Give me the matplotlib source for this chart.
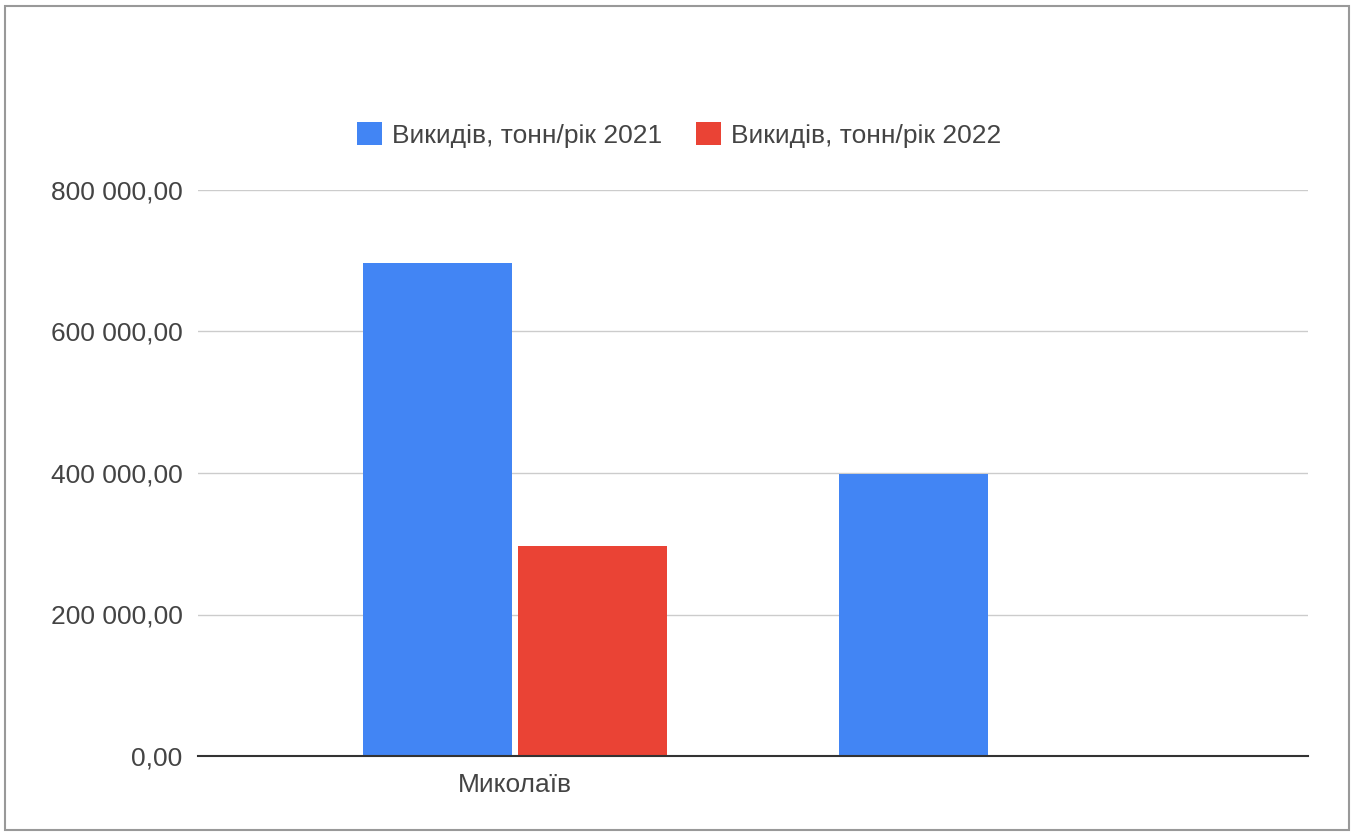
import numpy as np
import matplotlib.pyplot as plt
from matplotlib.patches import Rectangle

plt.rcParams['font.family'] = ['Liberation Sans', 'DejaVu Sans']

# data
categories = ['Миколаїв', '']
series_names = ['Викидів, тонн/рік 2021', 'Викидів, тонн/рік 2022']
values_2021 = [697000, 398000]
values_2022 = [297000, 0]
yticks = [0, 200000, 400000, 600000, 800000]

blue = '#4285f4'
red = '#ea4335'
text_col = '#444444'
fs = 19

fig = plt.figure(figsize=(13.54, 8.36), dpi=100)
ax = fig.add_axes([198 / 1354, 1 - 756 / 836, 1110 / 1354, 566 / 836])

x = np.arange(len(categories))
w = 0.314
gap = 0.006
ax.bar(x - w / 2 - gap, values_2021, width=w, color=blue, label=series_names[0], zorder=3)
ax.bar(x + w / 2 + gap, values_2022, width=w, color=red, label=series_names[1], zorder=3)

ax.set_xlim(-0.667, 1.667)
ax.set_ylim(0, 800000)
ax.set_yticks(yticks)
ax.set_yticklabels([f'{v:,.2f}'.replace(',', ' ').replace('.', ',') for v in yticks],
                   fontsize=fs, color=text_col)
ax.set_xticks(x)
ax.set_xticklabels(categories, fontsize=fs, color=text_col)
ax.tick_params(axis='both', length=0)
ax.tick_params(axis='y', pad=11)
ax.tick_params(axis='x', pad=12)

ax.grid(axis='y', color='#cccccc', linewidth=1, zorder=0)
for s in ['top', 'right', 'left']:
    ax.spines[s].set_visible(False)
ax.spines['bottom'].set_color('#333333')
ax.spines['bottom'].set_linewidth(1.5)
ax.spines['bottom'].set_zorder(4)

leg = fig.legend(loc='center', bbox_to_anchor=(679 / 1354, 1 - 135 / 836), ncol=2,
                 frameon=False, fontsize=fs, handlelength=0.95, handleheight=0.95,
                 handletextpad=0.38, columnspacing=1.3)
for t in leg.get_texts():
    t.set_color(text_col)

# outer border of the chart
fig.patches.append(Rectangle((5 / 1354, 6 / 836), 1344 / 1354, 824 / 836,
                             transform=fig.transFigure, fill=False,
                             edgecolor='#999999', linewidth=1.5))

fig.savefig('out.png', dpi=100)
